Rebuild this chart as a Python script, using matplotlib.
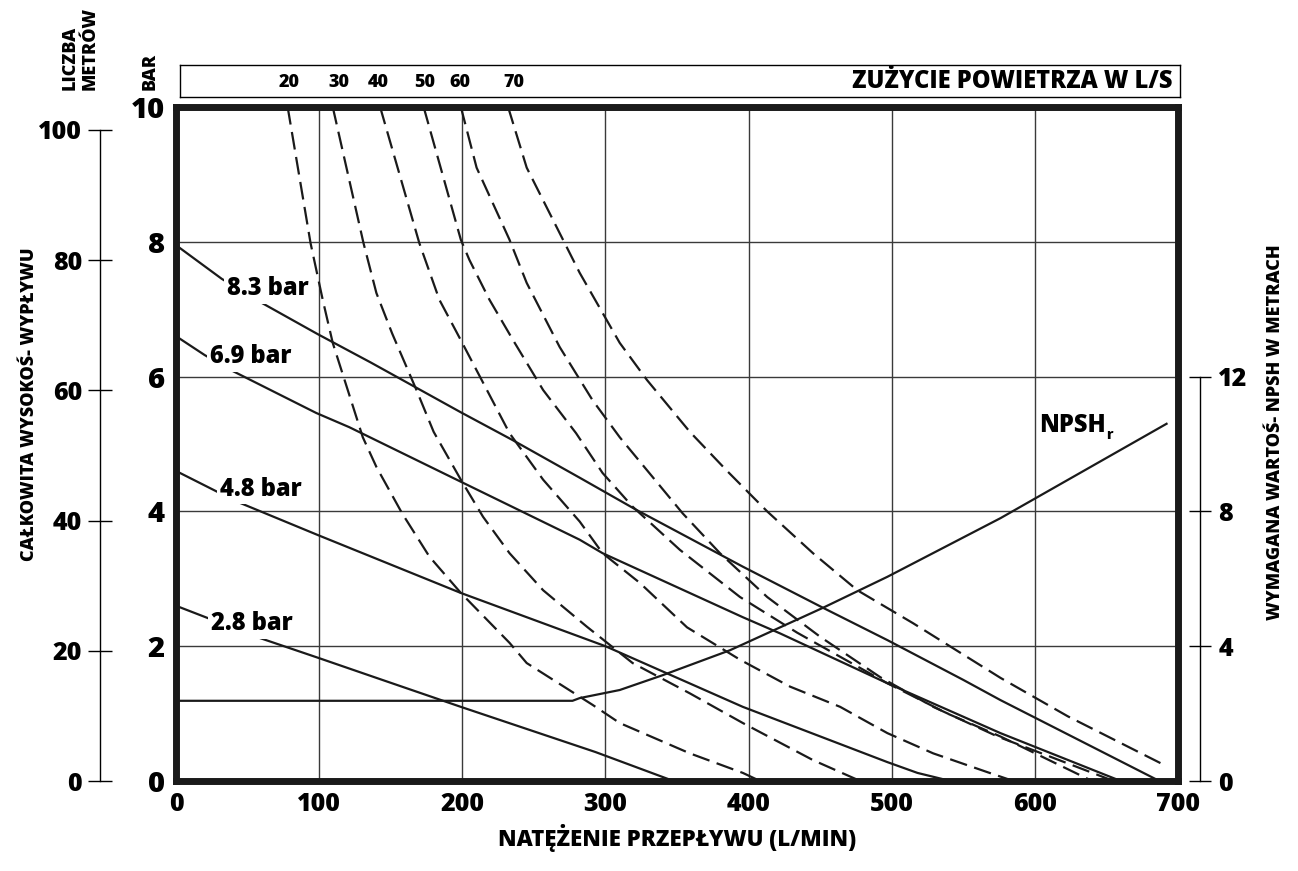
import matplotlib
matplotlib.use("Agg")
import matplotlib.pyplot as plt
from matplotlib.transforms import blended_transform_factory

plt.rcParams['font.family'] = ['Open Sans', 'DejaVu Sans']
plt.rcParams['font.weight'] = 800

# ---- data ----
# solid lines: discharge head in bar vs flow (L/min) at given inlet air pressure
p83_x = [0, 32, 56, 99, 136, 199, 235, 282, 321, 396, 452, 497, 550, 576, 687]
p83_y = [7.95, 7.45, 7.14, 6.63, 6.21, 5.47, 5.06, 4.5, 4.03, 3.18, 2.57, 2.09, 1.5, 1.2, 0]
p69_x = [0, 20, 38, 98, 121, 199, 282, 298, 396, 422, 497, 576, 660]
p69_y = [6.6, 6.32, 6.1, 5.46, 5.25, 4.44, 3.58, 3.38, 2.43, 2.19, 1.45, 0.71, 0]
p48_x = [0, 42, 99, 199, 300, 396, 497, 518, 541]
p48_y = [4.6, 4.15, 3.65, 2.79, 2.0, 1.1, 0.28, 0.12, 0]
p28_x = [0, 56, 99, 140, 199, 293, 345]
p28_y = [2.6, 2.14, 1.83, 1.53, 1.1, 0.43, 0.02]

# dashed lines: air consumption (L/s)
a20_x = [78, 94, 102.5, 109.5, 130.5, 140, 158, 177, 199, 233, 245, 291, 310, 359, 396, 408]
a20_y = [10, 7.98, 7.14, 6.5, 5.1, 4.66, 3.97, 3.33, 2.79, 2.05, 1.75, 1.13, 0.86, 0.41, 0.12, 0]
a30_x = [109.5, 131, 140, 151, 168, 180, 199, 214.5, 233, 256.5, 287, 319, 359, 396, 445, 478]
a30_y = [10, 7.98, 7.24, 6.64, 5.8, 5.18, 4.47, 3.92, 3.38, 2.83, 2.29, 1.75, 1.3, 0.86, 0.31, 0]
a40_x = [142.6, 170, 184, 199, 233, 256.5, 282, 298, 324, 357, 394, 429, 464, 497, 529, 567, 585]
a40_y = [10, 7.98, 7.14, 6.54, 5.16, 4.47, 3.85, 3.38, 2.94, 2.28, 1.8, 1.4, 1.1, 0.71, 0.41, 0.13, 0]
a50_x = [173, 199, 205, 219, 235.5, 256.5, 279.5, 298, 319, 352, 394, 434, 497, 539, 576, 640]
a50_y = [10, 8.03, 7.73, 7.14, 6.54, 5.8, 5.16, 4.57, 4.07, 3.43, 2.73, 2.2, 1.45, 1.0, 0.66, 0]
a60_x = [199, 210, 233, 245, 268, 291, 310, 354, 380, 413, 450, 492, 529, 574, 655]
a60_y = [10, 9.1, 8.03, 7.39, 6.44, 5.65, 5.1, 3.97, 3.38, 2.73, 2.14, 1.54, 1.1, 0.66, 0]
a70_x = [232, 245, 268, 282, 310, 329, 359, 385, 413, 445, 476, 515, 576, 623, 692]
a70_y = [10, 9.1, 8.13, 7.54, 6.5, 5.95, 5.18, 4.6, 4.0, 3.38, 2.83, 2.34, 1.53, 0.96, 0.22]

# NPSHr in metres
npsh_x = [0, 277, 282, 310, 340, 387, 452, 497, 576, 692]
npsh_y = [2.38, 2.38, 2.46, 2.7, 3.14, 3.88, 5.14, 6.06, 7.8, 10.6]

pressure_labels = ["8.3 bar", "6.9 bar", "4.8 bar", "2.8 bar"]
air_labels = ["20", "30", "40", "50", "60", "70"]
air_label_x = [79, 114, 141, 174, 198, 236]

BAR_TO_M = 10.35
W, H = 1298, 871

fig = plt.figure(figsize=(W / 100, H / 100), dpi=100)
ax = fig.add_axes([176 / W, 1 - 781 / H, 1002 / W, 674 / H])
ax.set_xlim(0, 700)
ax.set_ylim(0, 10)
ax.set_xticks(range(0, 701, 100))
ax.set_yticks(range(0, 11, 2))
ax.grid(True, color='#3a3a3a', lw=1.0)
ax.set_axisbelow(True)
ax.tick_params(axis='x', length=0, labelsize=18, pad=8)
ax.tick_params(axis='y', length=0, labelsize=21, pad=8)
for s in ax.spines.values():
    s.set_linewidth(5)
    s.set_color('#1a1a1a')

solid = [(p83_x, p83_y), (p69_x, p69_y), (p48_x, p48_y), (p28_x, p28_y)]
for xs, ys in solid:
    ax.plot(xs, ys, color='#1a1a1a', lw=1.6, zorder=3)

dashed = [(a20_x, a20_y), (a30_x, a30_y), (a40_x, a40_y),
          (a50_x, a50_y), (a60_x, a60_y), (a70_x, a70_y)]
for xs, ys in dashed:
    ax.plot(xs, ys, color='#1a1a1a', lw=1.6, dashes=(8, 3.4), zorder=3)

label_pos = [(64, 7.3), (52, 6.3), (59, 4.33), (53, 2.33)]
for txt, (lx, ly) in zip(pressure_labels, label_pos):
    ax.text(lx, ly, txt, ha='center', va='center', fontsize=17, zorder=5,
            bbox=dict(fc='white', ec='none', pad=2))

# NPSH axis (right)
axn = ax.twinx()
axn.set_ylim(0, 20)
for s in axn.spines.values():
    s.set_visible(False)
axn.spines['right'].set_visible(True)
axn.spines['right'].set_position(('outward', 16))
axn.spines['right'].set_bounds(0, 12)
axn.spines['right'].set_linewidth(1.0)
axn.set_yticks([0, 4, 8, 12])
axn.tick_params(axis='y', direction='inout', length=16, width=1, labelsize=18, pad=5)
axn.plot(npsh_x, npsh_y, color='#1a1a1a', lw=1.6)
t = axn.text(603, 10.56, "NPSH", ha='left', va='center', fontsize=17)
axn.annotate("r", xy=(1, 0.1), xycoords=t, ha='left', va='center', fontsize=10)

# metres axis (left, outer)
axm = ax.twinx()
axm.set_ylim(0, 10 * BAR_TO_M)
for s in axm.spines.values():
    s.set_visible(False)
axm.spines['left'].set_visible(True)
axm.spines['left'].set_position(('outward', 55))
axm.spines['left'].set_bounds(0, 100)
axm.spines['left'].set_linewidth(1.0)
axm.yaxis.set_ticks_position('left')
axm.set_yticks(range(0, 101, 20))
axm.tick_params(axis='y', direction='inout', length=17, width=1, labelsize=18, pad=4)

# air consumption box on top
axb = fig.add_axes([180 / W, 1 - 97 / H, 1000 / W, 32 / H])
axb.set_xticks([])
axb.set_yticks([])
for s in axb.spines.values():
    s.set_linewidth(1.0)
axb.text(0.992, 0.47, "ZUŻYCIE POWIETRZA W L/S", ha='right', va='center',
         fontsize=17, transform=axb.transAxes)
tr = blended_transform_factory(ax.transData, axb.transAxes)
for lab, lx in zip(air_labels, air_label_x):
    fig.text(lx, 0.45, lab, ha='center', va='center', fontsize=13, transform=tr)

# axis titles
fig.text(677 / W, 1 - 838 / H, "NATĘŻENIE PRZEPŁYWU (L/MIN)", ha='center',
         va='center', fontsize=16)
fig.text(30 / W, 1 - 404 / H, "CAŁKOWITA WYSOKOŚ- WYPŁYWU", rotation=90,
         ha='center', va='center', fontsize=13)
fig.text(1275 / W, 1 - 432 / H, "WYMAGANA WARTOŚ- NPSH W METRACH", rotation=90,
         ha='center', va='center', fontsize=13)
fig.text(80 / W, 1 - 90 / H, "LICZBA\nMETRÓW", rotation=90, ha='center',
         va='bottom', fontsize=13, linespacing=1.2, multialignment='left')
fig.text(150 / W, 1 - 90 / H, "BAR", rotation=90, ha='center', va='bottom',
         fontsize=13)

fig.savefig("out.png", dpi=100)
